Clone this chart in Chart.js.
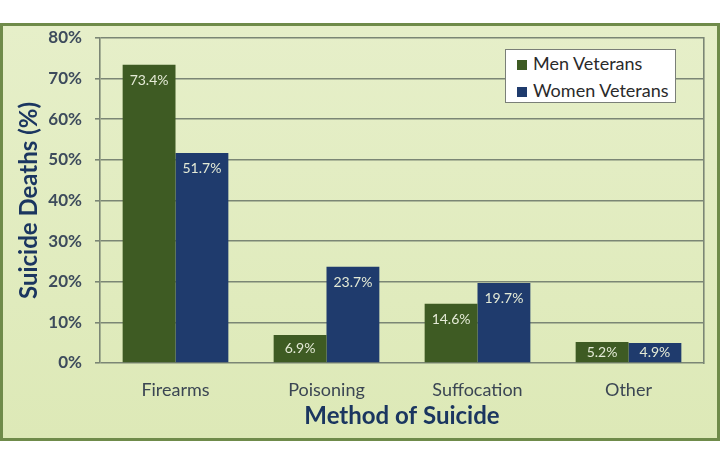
<!DOCTYPE html>
<html>
<head>
<meta charset="utf-8">
<script src="https://cdn.jsdelivr.net/npm/chart.js@4.4.1/dist/chart.umd.min.js"></script>
<style>
    html, body { margin: 0; padding: 0; background: #ffffff; }
    #wrap { position: relative; width: 720px; height: 466px; overflow: hidden; }
    #frame {
        position: absolute; left: 0; top: 23px; width: 714px; height: 412px;
        border: 3px solid #6f8b4a;
        background: linear-gradient(#e6efc9, #dde9b7);
    }
    #suicideChart { position: absolute; left: 0; top: 0; }
    #legend {
        position: absolute; left: 505px; top: 49px; width: 169px; height: 52px;
        background: #ffffff; border: 1px solid #7a7f78;
        font-family: Lato, sans-serif; font-size: 18px; color: #2a2a2a;
    }
    .legend-row { position: absolute; left: 11px; height: 22px; line-height: 22px; white-space: nowrap; }
    .legend-box { display: inline-block; width: 10px; height: 10px; margin-right: 6px; vertical-align: 0px; }
</style>
</head>
<body>
<div id="wrap">
    <div id="frame"></div>
    <canvas id="suicideChart" width="720" height="466"></canvas>
    <div id="legend"></div>
</div>
<script>
const methods = ['Firearms', 'Poisoning', 'Suffocation', 'Other'];
const menVeterans = [73.4, 6.9, 14.6, 5.2];
const womenVeterans = [51.7, 23.7, 19.7, 4.9];
const seriesNames = ['Men Veterans', 'Women Veterans'];
const seriesColors = ['#3e5b23', '#1f3b6d'];

const yMax = 80;
const yStep = 10;

const ctx = document.getElementById('suicideChart').getContext('2d');

// labels inside the top of each bar
const barLabels = {
    id: 'barLabels',
    afterDatasetsDraw(chart) {
        const c = chart.ctx;
        c.save();
        c.font = '14px Lato, sans-serif';
        c.fillStyle = '#e4ead6';
        c.textAlign = 'center';
        c.textBaseline = 'middle';
        chart.data.datasets.forEach((ds, i) => {
            chart.getDatasetMeta(i).data.forEach((bar, j) => {
                const y = Math.min(bar.y + 16, (bar.y + bar.base) / 2);
                c.fillText(ds.data[j].toFixed(1) + '%', bar.x, y);
            });
        });
        c.restore();
    }
};

const gridColor = '#7b8675';

new Chart(ctx, {
    type: 'bar',
    data: {
        labels: methods,
        datasets: [
            { label: seriesNames[0], data: menVeterans, backgroundColor: seriesColors[0] },
            { label: seriesNames[1], data: womenVeterans, backgroundColor: seriesColors[1] }
        ]
    },
    options: {
        responsive: false,
        animation: false,
        categoryPercentage: 0.7,
        barPercentage: 1.0,
        layout: { padding: { left: 0, right: 0, top: 38, bottom: 35 } },
        plugins: {
            legend: { display: false },
            tooltip: { enabled: false }
        },
        scales: {
            x: {
                grid: { display: false },
                border: { display: false },
                ticks: {
                    color: '#3b4653',
                    font: { family: 'Lato', size: 18 },
                    padding: 8
                },
                title: {
                    display: true,
                    text: 'Method of Suicide',
                    color: '#1b3660',
                    font: { family: 'Lato', size: 24, weight: 'bold' },
                    padding: { top: 0, bottom: 0 }
                },
                afterFit: (scale) => { scale.height = 68; }
            },
            y: {
                min: 0,
                max: yMax,
                grid: { color: gridColor, lineWidth: 1.6, tickLength: 5 },
                border: { display: true, color: gridColor, width: 1.6 },
                ticks: {
                    stepSize: yStep,
                    color: '#3d4b5c',
                    font: { family: 'Lato', size: 17, weight: 'bold' },
                    padding: 13,
                    callback: (v) => v + '%'
                },
                title: {
                    display: true,
                    text: 'Suicide Deaths (%)',
                    color: '#1b3660',
                    font: { family: 'Lato', size: 24, weight: 'bold' },
                    padding: { top: 15, bottom: 0 }
                },
                afterFit: (scale) => { scale.width = 100; }
            },
            y2: {
                position: 'right',
                min: 0,
                max: yMax,
                grid: { display: false },
                border: { display: true, color: gridColor, width: 1.6 },
                ticks: { display: false },
                afterFit: (scale) => { scale.width = 16; }
            }
        }
    },
    plugins: [barLabels]
});

// legend box
const legend = document.getElementById('legend');
seriesNames.forEach((name, i) => {
    const row = document.createElement('div');
    row.className = 'legend-row';
    row.style.top = (2 + i * 27) + 'px';
    row.innerHTML = '<span class="legend-box" style="background:' + seriesColors[i] + '"></span>' + name;
    legend.appendChild(row);
});
</script>
</body>
</html>
